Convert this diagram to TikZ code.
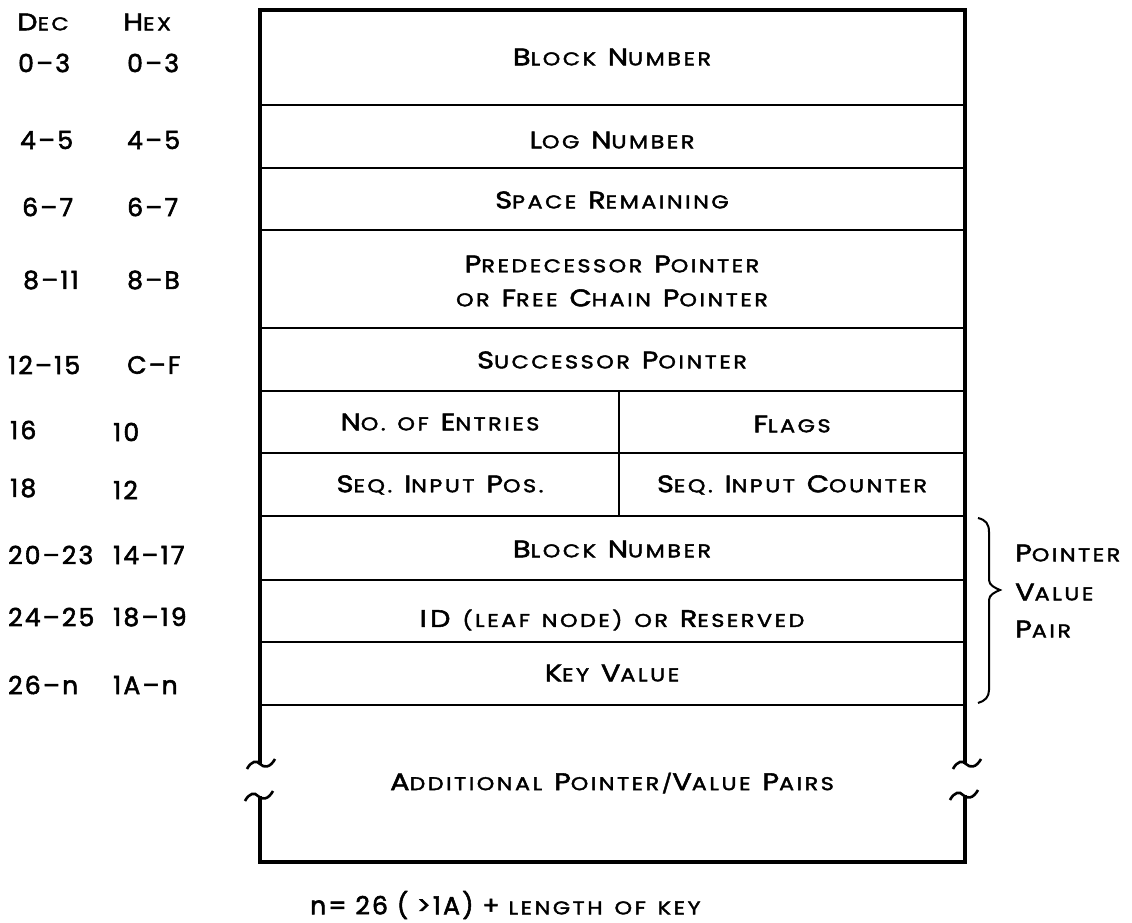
\documentclass[tikz,border=0pt]{standalone}
\usepackage{fontspec}
\setmainfont{Poppins}[LetterSpace=14, WordSpace=1.4, FakeBold=2.2, FakeStretch=1.2]
\newfontfamily\numfont{Poppins}[LetterSpace=9, FakeBold=2.2]
\newcommand\K[1]{{\fontsize{24}{24}\selectfont #1}}
\tikzset{
  lab/.style={font=\fontsize{18.5}{34}\selectfont, inner sep=0pt, align=center},
  num/.style={font=\numfont\fontsize{25}{25}\selectfont, inner sep=0pt, anchor=west},
  outer/.style={line width=3.2pt},
  inner/.style={line width=1.8pt},
  tilde/.pic={\draw[line width=2.6pt] (-13,7) .. controls (-9,-1) and (-3,-2) .. (0,2) .. controls (4,6) and (10,6) .. (15,-3);},
}
\begin{document}
\begin{tikzpicture}[x=1pt,y=-1pt]
\useasboundingbox (0,0) rectangle (1132,923);
% outer frame
\draw[outer] (260,764) -- (260,10) -- (965,10) -- (965,764);
\draw[outer] (260,796) -- (260,862) -- (965,862) -- (965,795);
\pic at (260,762) {tilde};
\pic at (258,794) {tilde};
\pic at (966,762) {tilde};
\pic at (963,793) {tilde};
% inner lines
\foreach \y in {105,168,230,328,391,453,516,580,642,705}
  \draw[inner] (260,\y) -- (965,\y);
\draw[inner] (619,391) -- (619,516);
% brace
\draw[line width=2pt] (978,518) .. controls (986,520) and (989,524) .. (989,532) -- (989,580)
  .. controls (989,585) and (995,588) .. (1000,590) .. controls (995,592) and (989,595) .. (989,600)
  -- (989,690) .. controls (989,697) and (985,701) .. (978,703);
% field texts
\node[lab] (f1) at (612,57) {\K{B}LOCK \K{N}UMBER};
\node[lab] (f2) at (612,140) {\K{L}OG \K{N}UMBER};
\node[lab] (f3) at (612,200) {\K{S}PACE \K{R}EMAINING};
\node[lab] (f4) at (612,281) {\K{P}REDECESSOR \K{P}OINTER\\OR \K{F}REE \K{C}HAIN \K{P}OINTER};
\node[lab] (f5) at (612,360) {\K{S}UCCESSOR \K{P}OINTER};
\node[lab] (f6) at (440,422) {\K{N}O. OF \K{E}NTRIES};
\node[lab] (f7) at (792,424) {\K{F}LAGS};
\node[lab] (f8) at (440,485) {\K{S}EQ. \K{I}NPUT \K{P}OS.};
\node[lab] (f9) at (792,485) {\K{S}EQ. \K{I}NPUT \K{C}OUNTER};
\node[lab] (f10) at (612,549) {\K{B}LOCK \K{N}UMBER};
\node[lab] (f11) at (612,620) {\K{ID} (LEAF NODE) OR \K{R}ESERVED};
\node[lab] (f12) at (612,673) {\K{K}EY \K{V}ALUE};
\node[lab] (f13) at (612,783) {\K{A}DDITIONAL \K{P}OINTER/\K{V}ALUE \K{P}AIRS};
% brace label
\node[lab, anchor=west] (p1) at (1015,553) {\K{P}OINTER};
\node[lab, anchor=west] (p2) at (1015,592) {\K{V}ALUE};
\node[lab, anchor=west] (p3) at (1015,629) {\K{P}AIR};
% headers
\node[lab, anchor=west] (hd) at (17,22) {\K{D}EC};
\node[lab, anchor=west] (hh) at (123,22) {\K{H}EX};
% offsets
\node[num] (d1) at (18,63) {0–3};   \node[num] (h1) at (127,63) {0–3};
\node[num] (d2) at (20,140) {4–5};  \node[num] (h2) at (127,140) {4–5};
\node[num] (d3) at (22,207) {6–7};  \node[num] (h3) at (127,207) {6–7};
\node[num] (d4) at (23,280) {8–11}; \node[num] (h4) at (127,280) {8–B};
\node[num] (d5) at (8,365) {12–15}; \node[num] (h5) at (127,365) {C–F};
\node[num] (d6) at (10,430) {16};   \node[num] (h6) at (113,432) {10};
\node[num] (d7) at (10,488) {18};   \node[num] (h7) at (113,490) {12};
\node[num] (d8) at (8,555) {20–23}; \node[num] (h8) at (113,555) {14–17};
\node[num] (d9) at (8,617) {24–25}; \node[num] (h9) at (113,617) {18–19};
\node[num] (d10) at (8,685) {26–n}; \node[num] (h10) at (113,685) {1A–n};
% note
\node[num] (note) at (310,905) {n= 26 ( >1A) + {\rmfamily\fontsize{18.5}{18.5}\selectfont LENGTH OF KEY}};
\end{tikzpicture}
\end{document}
